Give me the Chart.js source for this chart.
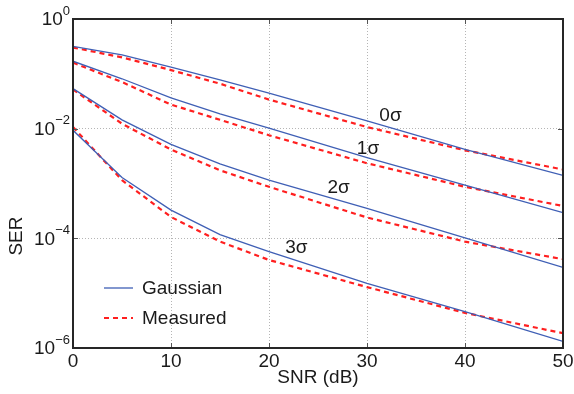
<!DOCTYPE html>
<html><head><meta charset="utf-8">
<script src="https://cdn.jsdelivr.net/npm/chart.js@4/dist/chart.umd.min.js"></script>
<style>html,body{margin:0;padding:0;background:#fff}#wrap{width:574px;height:394px}</style>
</head><body><div id="wrap"><canvas id="c" width="574" height="394"></canvas></div>
<script>
const snr = [0, 5, 10, 15, 20, 30, 40, 50];
const gauss0 = [0.316, 0.221, 0.132, 0.0776, 0.0447, 0.0138, 0.00417, 0.00141];
const meas0  = [0.302, 0.200, 0.117, 0.0661, 0.0339, 0.0107, 0.00403, 0.00180];
const gauss1 = [0.170, 0.0813, 0.0363, 0.0186, 0.0102, 0.00295, 0.000933, 0.000295];
const meas1  = [0.160, 0.0708, 0.0275, 0.0145, 0.00759, 0.00234, 0.000871, 0.000389];
const gauss2 = [0.0537, 0.0145, 0.00519, 0.00229, 0.00115, 0.000351, 0.000102, 2.95e-5];
const meas2  = [0.0519, 0.0123, 0.00417, 0.00174, 0.000871, 0.000240, 8.71e-5, 4.17e-5];
const gauss3 = [0.00933, 0.00129, 0.000327, 0.000117, 5.75e-5, 1.51e-5, 4.62e-6, 1.32e-6];
const meas3  = [0.0107, 0.00115, 0.000245, 8.71e-5, 4.03e-5, 1.29e-5, 4.37e-6, 1.86e-6];
const xTicks = [0, 10, 20, 30, 40, 50];
const yTickExp = [0, -2, -4, -6];
const curveLabels = ['0σ', '1σ', '2σ', '3σ'];
const labelX = [32.4, 30.1, 27.1, 22.8];
const labelY = [0.0174, 0.00437, 8.2e-4, 6.6e-5];
const legendNames = ['Gaussian', 'Measured'];
const xTitle = 'SNR (dB)';
const yTitle = 'SER';

const BLUE = '#3f5fb5', RED = '#ff1f1f', TXT = '#1a1a1a', FONT = '"Liberation Sans", Arial, sans-serif';
const mk = (arr) => arr.map((v, i) => ({x: snr[i], y: v}));
const gs = [gauss0, gauss1, gauss2, gauss3], ms = [meas0, meas1, meas2, meas3];
const datasets = [];
for (let i = 0; i < 4; i++) {
  datasets.push({label: legendNames[0], data: mk(gs[i]), borderColor: BLUE, borderWidth: 1.3, pointRadius: 0, tension: 0, fill: false});
  datasets.push({label: legendNames[1], data: mk(ms[i]), borderColor: RED, borderWidth: 2.2, borderDash: [5, 4], pointRadius: 0, tension: 0, fill: false});
}

const deco = {
  id: 'deco',
  afterDraw(chart) {
    const ctx = chart.ctx, a = chart.chartArea, xs = chart.scales.x, ys = chart.scales.y;
    ctx.save();
    // inward tick marks
    ctx.strokeStyle = '#555'; ctx.lineWidth = 1;
    xTicks.forEach(t => {
      const px = Math.round(xs.getPixelForValue(t)) + 0.5;
      ctx.beginPath(); ctx.moveTo(px, a.bottom); ctx.lineTo(px, a.bottom - 5);
      ctx.moveTo(px, a.top); ctx.lineTo(px, a.top + 5); ctx.stroke();
    });
    yTickExp.forEach(e => {
      const py = Math.round(ys.getPixelForValue(Math.pow(10, e))) + 0.5;
      ctx.beginPath(); ctx.moveTo(a.left, py); ctx.lineTo(a.left + 5, py);
      ctx.moveTo(a.right, py); ctx.lineTo(a.right - 5, py); ctx.stroke();
    });
    // frame
    ctx.strokeStyle = '#262626'; ctx.lineWidth = 2;
    ctx.strokeRect(a.left, a.top, a.right - a.left, a.bottom - a.top);
    // x tick labels
    ctx.fillStyle = TXT; ctx.font = '19px ' + FONT; ctx.textAlign = 'center'; ctx.textBaseline = 'middle';
    xTicks.forEach(t => ctx.fillText(String(t), xs.getPixelForValue(t), a.bottom + 14));
    // y tick labels with superscript
    yTickExp.forEach(e => {
      const py = ys.getPixelForValue(Math.pow(10, e));
      const expStr = e === 0 ? '0' : '\u2212' + String(-e);
      ctx.font = '13px ' + FONT;
      const ew = ctx.measureText(expStr).width;
      ctx.textAlign = 'right'; ctx.textBaseline = 'middle';
      ctx.fillText(expStr, a.left - 3, py - 8);
      ctx.font = '19px ' + FONT;
      ctx.fillText('10', a.left - 3 - ew, py + 1);
    });
    // axis titles
    ctx.font = '19px ' + FONT; ctx.textAlign = 'center'; ctx.textBaseline = 'middle';
    ctx.fillText(xTitle, (a.left + a.right) / 2 + 0, a.bottom + 30);
    ctx.save(); ctx.translate(17, ys.getPixelForValue(1.1e-4)); ctx.rotate(-Math.PI / 2);
    ctx.fillText(yTitle, 0, 0); ctx.restore();
    // curve labels
    curveLabels.forEach((s, i) => ctx.fillText(s, xs.getPixelForValue(labelX[i]), ys.getPixelForValue(labelY[i])));
    // legend
    const lx = a.left + 31, ly = [a.bottom - 60, a.bottom - 30];
    ctx.textAlign = 'left';
    ctx.strokeStyle = BLUE; ctx.lineWidth = 1.3; ctx.setLineDash([]);
    ctx.beginPath(); ctx.moveTo(lx, ly[0]); ctx.lineTo(lx + 29, ly[0]); ctx.stroke();
    ctx.strokeStyle = RED; ctx.lineWidth = 2.2; ctx.setLineDash([5, 4]);
    ctx.beginPath(); ctx.moveTo(lx, ly[1]); ctx.lineTo(lx + 29, ly[1]); ctx.stroke();
    ctx.setLineDash([]);
    ctx.fillStyle = TXT;
    ctx.fillText(legendNames[0], lx + 38, ly[0] + 1);
    ctx.fillText(legendNames[1], lx + 38, ly[1] + 1);
    ctx.restore();
  }
};

new Chart(document.getElementById('c'), {
  type: 'line',
  data: {datasets},
  options: {
    responsive: false, animation: false, devicePixelRatio: 1,
    layout: {padding: {left: 73, right: 11, top: 19, bottom: 46}},
    plugins: {legend: {display: false}, tooltip: {enabled: false}},
    scales: {
      x: {type: 'linear', min: 0, max: 50,
          afterBuildTicks: s => { s.ticks = xTicks.map(v => ({value: v})); },
          ticks: {display: false},
          grid: {drawTicks: false, color: c => (c.tick && (c.tick.value === 0 || c.tick.value === 50)) ? 'rgba(0,0,0,0)' : '#b5b5b5', lineWidth: 1},
          border: {display: false, dash: [1, 2]}},
      y: {type: 'logarithmic', min: 1e-6, max: 1,
          afterBuildTicks: s => { s.ticks = yTickExp.map(e => ({value: Math.pow(10, e)})); },
          ticks: {display: false},
          grid: {drawTicks: false, color: c => (c.tick && (c.tick.value >= 0.5 || c.tick.value <= 2e-6)) ? 'rgba(0,0,0,0)' : '#b5b5b5', lineWidth: 1},
          border: {display: false, dash: [1, 2]}}
    }
  },
  plugins: [deco]
});
</script>
</body></html>
